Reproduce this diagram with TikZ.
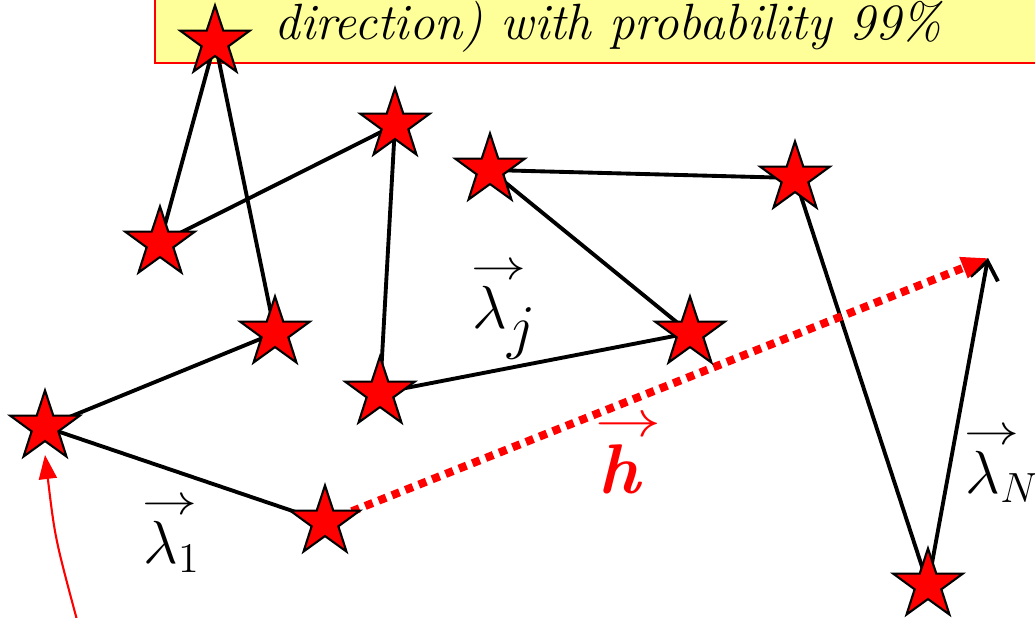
\documentclass[tikz,border=0pt]{standalone}
\usepackage{amsmath}
\usepackage{fontspec}
\usetikzlibrary{arrows.meta, shapes.geometric, backgrounds, calc}
\definecolor{bnYellow}{HTML}{FFFF99}
\tikzset{
  starmark/.style = {star, star points=5, star point ratio=2.6, minimum size=0.73cm,
                     inner sep=0pt, fill=red, draw=black, line width=0.6pt},
  walkline/.style = {black, line width=1.1pt},
  lastleg/.style  = {walkline, -{Straight Barb[length=1.8mm, width=2.8mm]}},
  hvec/.style     = {red, line width=2.3pt, dash pattern=on 2.3pt off 1.8pt,
                     -{Triangle[length=7.5pt, width=6pt]}},
  pointer/.style  = {red, line width=0.6pt, -{Triangle[length=2.4mm, width=1.8mm]}},
  banner/.style   = {fill=bnYellow, draw=red, line width=0.8pt},
  lbl/.style      = {font=\fontsize{17}{20}\selectfont},
}
\newcommand{\toparrow}{\makebox[0pt]{\hspace{5pt}\raisebox{-5pt}{\scalebox{1.3}[1]{$\scriptstyle\rightarrow$}}}}
\newcommand{\lamvec}[1]{$\overset{\toparrow}{\lambda}_{#1}$}

\begin{document}
\begin{tikzpicture}[x=0.01cm, y=0.01cm]
\useasboundingbox (0,0) rectangle (1035,618);
% stars of the walk
\node[starmark] (s1)  at (45,191)  {};
\node[starmark] (s2)  at (325,96)  {};
\node[starmark] (s3)  at (275,285) {};
\node[starmark] (s4)  at (215,576) {};
\node[starmark] (s5)  at (160,375) {};
\node[starmark] (s6)  at (395,493) {};
\node[starmark] (s7)  at (380,225) {};
\node[starmark] (s8)  at (690,285) {};
\node[starmark] (s9)  at (490,448) {};
\node[starmark] (s10) at (795,440) {};
\node[starmark] (s11) at (928,33)  {};
\coordinate (tip)  at (988,360);
\coordinate (from) at (77,-2);
\coordinate (hit)  at ($(s1.center)+(0,-28)$);
\begin{scope}[on background layer]
  \draw[banner] (155,555) rectangle (1045,640);
  \node[font=\fontsize{14.5}{17}\selectfont\itshape] (title) at (608,591)
    {direction) with probability 99\%};
  \draw[walkline] (s2.center) -- (s1.center) -- (s3.center) -- (s4.center)
    -- (s5.center) -- (s6.center) -- (s7.center) -- (s8.center)
    -- (s9.center) -- (s10.center) -- (s11.center);
  \draw[lastleg] (s11.center) -- (tip);
  \draw[hvec] (s2.center) -- (tip);
\end{scope}
\draw[pointer] (from) .. controls (55,80) .. (hit);
% labels
\node[lbl] (lj) at (505,310) {\lamvec{\textstyle j}};
\node[lbl] (l1) at (172,86)  {\lamvec{1}};
\node[lbl, anchor=west, inner sep=0pt] (lN) at (965,156) {\lamvec{N}};
\node[lbl, red, font=\fontsize{20}{24}\selectfont] (hl) at (620,166)
  {$\overset{\toparrow}{\textbf{\textit{h}}}$};
\end{tikzpicture}
\end{document}
